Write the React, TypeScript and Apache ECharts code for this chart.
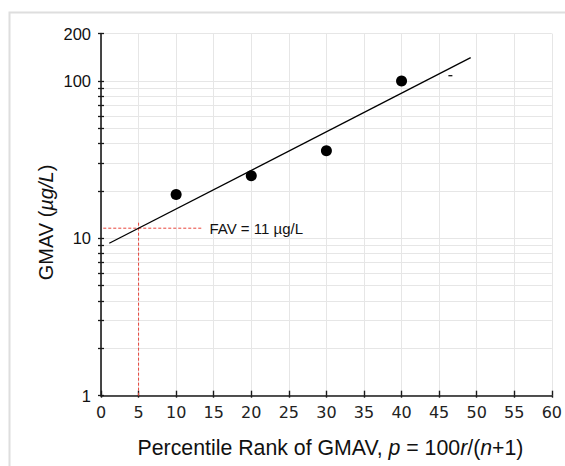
import React, { useEffect, useRef } from "react";
import * as echarts from "echarts";

// ---- data ----
const percentiles = [10, 20, 30, 40];
const gmav = [19, 25, 36, 100];
const fitX = [1.1, 49.2];
const fitY = [9.3, 140.6];
const favHorizX = [0.3, 13.5];
const favHorizY = [11.6, 11.6];
const favVertX = [5, 5];
const favVertY = [1, 12.9];
const favLabel = "FAV = 11 µg/L";
const strayX = [46.5];
const strayY = [108];
const yMajorTicks = [1, 10, 100, 200];
const yMinorTicks = [2, 3, 4, 5, 6, 7, 8, 9, 20, 30, 40, 50, 60, 70, 80, 90];
const xMin = 0;
const xMax = 60;
const xStep = 5;
const yMin = 1;
const yMax = 200;

const lg = (v: number) => Math.log10(v);
const pairs = (xs: number[], ys: number[]) => xs.map((x, i) => [x, lg(ys[i])]);

export default function App() {
  const ref = useRef<HTMLDivElement>(null);
  useEffect(() => {
    document.body.style.margin = "0";
    if (!ref.current) return;
    const chart = echarts.init(ref.current, undefined, { renderer: "svg" });
    const allTicks = [...yMajorTicks, ...yMinorTicks].map(lg).sort((a, b) => a - b);
    const majorVals = yMajorTicks.map(lg);
    const sans = "'Liberation Sans', Arial, Helvetica, sans-serif";
    chart.setOption({
      animation: false,
      grid: { left: 101, right: 9, top: 33.6, bottom: 70.3 },
      xAxis: [
        {
          type: "value",
          min: xMin,
          max: xMax,
          interval: xStep,
          axisLine: { show: true, lineStyle: { color: "#1a1a1a", width: 1.6 } },
          axisTick: { show: true, inside: true, length: 5, lineStyle: { color: "#1a1a1a", width: 1.4 } },
          axisLabel: {
            show: true,
            margin: 9,
            fontSize: 16,
            fontFamily: "'DejaVu Sans', Verdana, sans-serif",
            color: "#222",
          },
          splitLine: { show: true, lineStyle: { color: "#e6e6e6", width: 1 } },
        },
        {
          type: "value",
          position: "bottom",
          min: xMin,
          max: xMax,
          interval: xStep,
          axisLine: { show: false },
          axisTick: { show: true, inside: false, length: 2, lineStyle: { color: "#1a1a1a", width: 1.4 } },
          axisLabel: { show: false },
          splitLine: { show: false },
        },
      ],
      yAxis: [
        {
          type: "value",
          min: lg(yMin),
          max: lg(yMax),
          axisLine: { show: true, lineStyle: { color: "#1a1a1a", width: 1.6 } },
          axisTick: {
            show: true,
            inside: false,
            length: 3,
            customValues: allTicks,
            lineStyle: { color: "#1a1a1a", width: 1.3 },
          },
          axisLabel: {
            show: true,
            customValues: majorVals,
            formatter: (v: number) => String(Math.round(Math.pow(10, v))),
            margin: 10,
            fontSize: 16.5,
            fontFamily: sans,
            color: "#111",
            padding: [8, 0, 0, 0],
          },
          splitLine: { show: true, lineStyle: { color: "#e6e6e6", width: 1 } },
        },
        {
          type: "value",
          position: "left",
          min: lg(yMin),
          max: lg(yMax),
          axisLine: { show: false },
          axisTick: {
            show: true,
            inside: true,
            length: 3,
            customValues: allTicks,
            lineStyle: { color: "#1a1a1a", width: 1.3 },
          },
          axisLabel: { show: false },
          splitLine: { show: false },
        },
      ],
      series: [
        {
          type: "line",
          data: pairs(favHorizX, favHorizY),
          symbol: "none",
          lineStyle: { color: "#e8443a", width: 1, type: [3, 2] },
          endLabel: {
            show: true,
            formatter: favLabel,
            distance: 7,
            fontSize: 15,
            fontFamily: sans,
            color: "#111",
          },
          z: 3,
        },
        {
          type: "line",
          data: pairs(favVertX, favVertY),
          symbol: "none",
          lineStyle: { color: "#e8443a", width: 1, type: [3, 2] },
          z: 3,
        },
        {
          type: "line",
          data: pairs(fitX, fitY),
          symbol: "none",
          lineStyle: { color: "#000", width: 1.3 },
          z: 4,
        },
        {
          type: "scatter",
          data: pairs(percentiles, gmav),
          symbol: "circle",
          symbolSize: 11,
          itemStyle: { color: "#000", opacity: 1 },
          z: 5,
        },
        {
          type: "scatter",
          data: pairs(strayX, strayY),
          symbol: "rect",
          symbolSize: [4, 1.2],
          itemStyle: { color: "#000", opacity: 1 },
          z: 5,
        },
      ],
      graphic: [
        {
          type: "rect",
          shape: { x: 9.5, y: 12.5, width: 700, height: 600 },
          style: { fill: "none", stroke: "#dedede", lineWidth: 2 },
          z: -10,
          silent: true,
        },
        {
          type: "text",
          x: 46,
          y: 222.5,
          rotation: Math.PI / 2,
          style: {
            text: "GMAV ({i|µg/L})",
            fontSize: 20,
            fontFamily: sans,
            fill: "#111",
            align: "center",
            verticalAlign: "middle",
            rich: {
              i: { fontStyle: "italic", fontSize: 20, fontFamily: sans, fill: "#111" },
            },
          },
        },
        {
          type: "text",
          x: 330.5,
          y: 448,
          style: {
            text: "Percentile Rank of GMAV, {i|p} = 100{i|r}/({i|n}+1)",
            fontSize: 21.3,
            fontFamily: sans,
            fill: "#111",
            align: "center",
            verticalAlign: "middle",
            rich: {
              i: { fontStyle: "italic", fontSize: 21.3, fontFamily: sans, fill: "#111" },
            },
          },
        },
      ],
    });
    return () => chart.dispose();
  }, []);
  return <div ref={ref} style={{ width: 565, height: 466 }} />;
}
